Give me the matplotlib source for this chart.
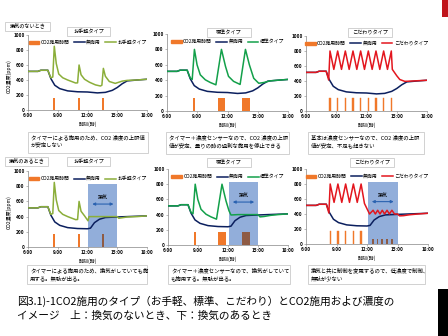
import matplotlib
matplotlib.use('Agg')
import matplotlib.pyplot as plt
from matplotlib.patches import Rectangle, Patch
from matplotlib.lines import Line2D

plt.rcParams['font.family'] = ['Noto Sans CJK JP', 'DejaVu Sans']

# ---------------- data ----------------
x_ticks = [6, 9, 12, 15, 18]
x_ticklabels = ['6:00', '9:00', '12:00', '15:00', '18:00']
y_ticks = [0, 200, 400, 600, 800, 1000]

# no CO2 (無施用), without ventilation
navy_h = [6.0, 7.0, 7.3, 8.0, 8.3, 8.7, 9.2, 10.0, 11.0, 12.0, 13.0, 13.8, 14.5, 15.0, 15.5, 16.0, 17.0, 18.0]
navy_v = [515, 515, 530, 530, 420, 330, 285, 255, 243, 240, 228, 235, 262, 300, 350, 388, 400, 410]
# no CO2, with ventilation
navyV_h = [6.0, 7.0, 7.3, 8.0, 8.3, 8.7, 9.2, 10.0, 11.0, 12.0, 12.3, 12.7, 13.2, 13.8, 15.0, 16.0, 17.0, 18.0]
navyV_v = [515, 515, 530, 530, 420, 330, 285, 255, 243, 240, 248, 320, 365, 388, 395, 400, 405, 410]

# お手軽タイプ
easy_h = [6.0, 7.0, 7.3, 8.0, 8.3, 8.5, 8.65, 8.85, 9.1, 9.5, 10.0, 10.8, 11.0, 11.15, 11.35, 11.7, 12.2, 12.8,
          13.3, 13.45, 13.6, 13.8, 14.2, 14.8, 15.5, 16.0, 17.0, 18.0]
easy_v = [515, 515, 530, 530, 430, 440, 850, 620, 480, 430, 400, 360, 362, 600, 470, 410, 370, 335,
          320, 330, 555, 450, 380, 355, 385, 395, 400, 410]
easyV_h = [6.0, 7.0, 7.3, 8.0, 8.3, 8.5, 8.65, 8.85, 9.1, 9.5, 10.0, 10.8, 11.0, 11.15, 11.35, 11.7, 12.05,
           12.15, 13.0, 14.0, 15.0, 15.15, 15.5, 16.0, 17.0, 18.0]
easyV_v = [515, 515, 530, 530, 430, 440, 850, 620, 480, 430, 400, 360, 362, 600, 470, 410, 345,
           400, 400, 400, 400, 378, 385, 395, 400, 410]

# 標準タイプ
std_h = [6.0, 7.0, 7.3, 8.0, 8.3, 8.5, 8.72, 8.98, 9.3, 9.8, 10.3, 10.85, 11.4, 11.8, 12.1, 12.6, 13.25,
         13.78, 14.17, 14.6, 15.1, 15.6, 16.25, 17.0, 18.0]
std_v = [515, 515, 530, 530, 430, 410, 800, 600, 470, 405, 370, 340, 800, 580, 450, 385, 345,
         800, 600, 425, 360, 370, 392, 400, 410]
stdV_h = [6.0, 7.0, 7.3, 8.0, 8.3, 8.5, 8.72, 8.98, 9.3, 9.8, 10.3, 10.85, 11.4, 11.8, 12.1, 12.3,
          13.0, 14.0, 15.0, 15.2, 15.6, 16.25, 17.0, 18.0]
stdV_v = [515, 515, 530, 530, 430, 410, 800, 600, 470, 405, 370, 340, 800, 580, 450, 395,
          400, 400, 400, 370, 375, 390, 400, 410]

# こだわりタイプ
prem_h = [6.0, 7.0, 7.3, 8.0, 8.25, 8.38, 8.76, 9.14, 9.52, 9.9, 10.28, 10.66, 11.04, 11.42, 11.8,
          12.18, 12.56, 12.94, 13.32, 13.7, 14.08, 14.46, 14.56, 15.0, 15.3, 15.8, 16.3, 17.0, 18.0]
prem_v = [515, 515, 530, 530, 413, 800, 555, 800, 555, 800, 555, 800, 555, 800, 555,
          800, 555, 800, 555, 800, 555, 800, 555, 470, 420, 395, 398, 403, 410]
premV_h = [6.0, 7.0, 7.3, 8.0, 8.25, 8.38, 8.76, 9.14, 9.52, 9.9, 10.28, 10.66, 11.04, 11.42, 11.75,
           12.25, 12.6, 12.82, 13.05, 13.28, 13.5, 13.73, 13.97, 14.2, 14.45, 14.7, 15.0, 15.2, 15.6,
           16.2, 17.0, 18.0]
premV_v = [515, 515, 530, 530, 413, 800, 555, 800, 555, 800, 555, 800, 555, 800, 540,
           400, 450, 400, 450, 400, 450, 400, 450, 400, 450, 400, 400, 375, 378,
           390, 400, 410]

# CO2 application bars (time, width, height)
easy_bar_t = [8.63, 11.1]
easy_bar_w = [0.2, 0.2]
easy_bar_hgt = [165, 165]
easy_bar3_t = [13.6]
easy_bar3_w = [0.22]
easy_bar3_hgt = [165]

std_bar_t = [8.67, 11.4]
std_bar_w = [0.22, 0.76]
std_bar_hgt = [165, 165]
std_bar3_t = [13.82]
std_bar3_w = [0.76]
std_bar3_hgt = [165]

prem_bar_t = [8.38, 9.14, 9.9, 10.66, 11.42]
prem_bar2_t = [12.18, 12.94, 13.7, 14.46]
prem_bar_w = 0.12
prem_bar_hgt = 170
premV_bar_t = [12.59, 13.03, 13.5, 13.97, 14.45]
premV_bar_w = 0.15
premV_bar_hgt = 68

vent_start, vent_end, vent_top = 12.1, 15.0, 830

legend_bar = 'CO2施用時間'
legend_none = '無施用'
type_names = ['お手軽タイプ', '標準タイプ', 'こだわりタイプ']

desc_top = ['タイマーによる施用のため、CO2 濃度の上限値\nが安定しない',
            'タイマー＋濃度センサーなので、CO2 濃度の上限\n値が安定、曇りの時の過剰な施用を停止できる',
            '基本は濃度センサーなので、CO2 濃度の上限\n値が安定、不足も起きない']
desc_bot = ['タイマーによる施用のため、換気がしていても施\n用する。無駄が出る。',
            'タイマー＋濃度センサーなので、換気がしていて\nも施用する。無駄が出る。',
            '換気と共に制御を変更するので、低濃度で制御、\n無駄が少ない']
caption = ['図3.1)-1CO2施用のタイプ（お手軽、標準、こだわり）とCO2施用および濃度の',
           'イメージ　上：換気のないとき、下：換気のあるとき']

# ---------------- style ----------------
C_BAR = '#F0782A'
C_BAR_V = '#8E5B44'
C_NAVY = '#0B1F5E'
C_EASY = '#8BAE3A'
C_STD = '#13A04A'
C_PREM = '#E3161E'
C_VENT = '#92AEDA'

W, H = 448, 336
fig = plt.figure(figsize=(4.48, 3.36), dpi=100)


def fx(x):
    return x / W


def fy(y):
    return 1 - y / H


def make_axes(x0, x1, ytop, ybot):
    return fig.add_axes([fx(x0), fy(ybot), (x1 - x0) / W, (ybot - ytop) / H])


def style(ax, color, name):
    ax.set_xlim(6, 18)
    ax.set_ylim(0, 1000)
    ax.set_xticks(x_ticks)
    ax.set_xticklabels(x_ticklabels)
    ax.set_yticks(y_ticks)
    for s in ['top', 'right']:
        ax.spines[s].set_visible(False)
    for s in ['left', 'bottom']:
        ax.spines[s].set_color('#868686')
        ax.spines[s].set_linewidth(0.5)
    ax.tick_params(labelsize=3.4, length=1.5, width=0.4, pad=1, colors='#868686', labelcolor='black')
    for lab in ax.get_xticklabels() + ax.get_yticklabels():
        lab.set_fontweight('bold')
    ax.set_xlabel('時刻(時)', fontsize=3.6, labelpad=2.5)
    handles = [Patch(color=C_BAR), Line2D([], [], color=C_NAVY, lw=1.1), Line2D([], [], color=color, lw=1.1)]
    ax.legend(handles, [legend_bar, legend_none, name], ncol=3, loc='center', bbox_to_anchor=(0.5, 0.9),
              frameon=False, fontsize=3.5, handlelength=2.2, handleheight=0.5, columnspacing=0.9,
              handletextpad=0.3, borderpad=0)
    ax.patch.set_alpha(0)


def title_box(x0, x1, y0, y1, text):
    fig.add_artist(Rectangle((fx(x0), fy(y1)), (x1 - x0) / W, (y1 - y0) / H, transform=fig.transFigure,
                             fc='white', ec='#BFBFBF', lw=0.5))
    fig.text(fx((x0 + x1) / 2), fy((y0 + y1) / 2), text, ha='center', va='center', fontsize=3.7)


def desc_box(x0, x1, y0, y1, text):
    fig.add_artist(Rectangle((fx(x0), fy(y1)), (x1 - x0) / W, (y1 - y0) / H, transform=fig.transFigure,
                             fc='white', ec='#BFBFBF', lw=0.5))
    fig.text(fx(x0 + 3), fy(y0 + 2.5), text, ha='left', va='top', fontsize=3.9, linespacing=1.45)


panels = [
    # (x0, x1, ytop, ybot)
    (28, 147, 35, 110), (167, 288, 34, 111), (306, 427, 36, 111),
    (28, 147, 171, 247), (168, 288, 169, 245), (306, 428, 169, 244),
]

axs = [make_axes(*p) for p in panels]

# --- top row ---
ax = axs[0]
ax.bar(easy_bar_t + easy_bar3_t, easy_bar_hgt + easy_bar3_hgt, width=easy_bar_w + easy_bar3_w, color=C_BAR, zorder=1)
ax.plot(navy_h, navy_v, color=C_NAVY, lw=1.1, zorder=3)
ax.plot(easy_h, easy_v, color=C_EASY, lw=1.1, zorder=4)
style(ax, C_EASY, type_names[0])

ax = axs[1]
ax.bar(std_bar_t + std_bar3_t, std_bar_hgt + std_bar3_hgt, width=std_bar_w + std_bar3_w, color=C_BAR, zorder=1)
ax.plot(navy_h, navy_v, color=C_NAVY, lw=1.1, zorder=3)
ax.plot(std_h, std_v, color=C_STD, lw=1.1, zorder=4)
style(ax, C_STD, type_names[1])

ax = axs[2]
ax.bar(prem_bar_t + prem_bar2_t, prem_bar_hgt, width=prem_bar_w, color=C_BAR, zorder=1, lw=0.3, ec=C_BAR)
ax.plot(navy_h, navy_v, color=C_NAVY, lw=1.1, zorder=3)
ax.plot(prem_h, prem_v, color=C_PREM, lw=1.1, zorder=4)
style(ax, C_PREM, type_names[2])


def vent(ax):
    ax.add_patch(Rectangle((vent_start, 0), vent_end - vent_start, vent_top, color=C_VENT, lw=0, zorder=0.5))
    ax.annotate('', xy=(vent_start + 0.1, 565), xytext=(vent_end - 0.1, 565),
                arrowprops=dict(arrowstyle='<|-|>', color='#2A62B0', lw=0.8, mutation_scale=4), zorder=5)
    ax.text((vent_start + vent_end) / 2, 650, '換気', ha='center', va='center', fontsize=3.6, zorder=5)


# --- bottom row ---
ax = axs[3]
vent(ax)
ax.bar(easy_bar_t, easy_bar_hgt, width=easy_bar_w, color=C_BAR, zorder=1)
ax.bar(easy_bar3_t, easy_bar3_hgt, width=easy_bar3_w, color=C_BAR_V, zorder=1)
ax.plot(navyV_h, navyV_v, color=C_NAVY, lw=1.1, zorder=3)
ax.plot(easyV_h, easyV_v, color=C_EASY, lw=1.1, zorder=4)
style(ax, C_EASY, type_names[0])

ax = axs[4]
vent(ax)
ax.bar(std_bar_t, std_bar_hgt, width=std_bar_w, color=C_BAR, zorder=1)
ax.bar(std_bar3_t, std_bar3_hgt, width=std_bar3_w, color=C_BAR_V, zorder=1)
ax.plot(navyV_h, navyV_v, color=C_NAVY, lw=1.1, zorder=3)
ax.plot(stdV_h, stdV_v, color=C_STD, lw=1.1, zorder=4)
style(ax, C_STD, type_names[1])

ax = axs[5]
vent(ax)
ax.bar(prem_bar_t, prem_bar_hgt, width=prem_bar_w, color=C_BAR, zorder=1, lw=0.3, ec=C_BAR)
ax.bar(premV_bar_t, premV_bar_hgt, width=premV_bar_w, color=C_BAR_V, zorder=1)
ax.plot(navyV_h, navyV_v, color=C_NAVY, lw=1.1, zorder=3)
ax.plot(premV_h, premV_v, color=C_PREM, lw=1.1, zorder=4)
style(ax, C_PREM, type_names[2])

# y labels
fig.text(fx(9), fy(76), 'CO2濃度(ppm)', rotation=90, ha='center', va='center', fontsize=3.6)
fig.text(fx(9), fy(212), 'CO2濃度(ppm)', rotation=90, ha='center', va='center', fontsize=3.6)

# title boxes
title_box(5, 50, 22, 31, '換気のないとき')
title_box(67, 110, 27, 36, type_names[0])
title_box(207, 251, 28, 37, type_names[1])
title_box(348, 392, 28, 37, type_names[2])
title_box(5, 48, 157, 166, '換気のあるとき')
title_box(67, 110, 157, 166, type_names[0])
title_box(207, 251, 158, 167, type_names[1])
title_box(350, 394, 158, 167, type_names[2])

# description boxes
desc_box(28, 148, 132, 153, desc_top[0])
desc_box(166, 289, 132, 154, desc_top[1])
desc_box(308, 424, 132, 154, desc_top[2])
desc_box(27, 147, 265, 284, desc_bot[0])
desc_box(168, 290, 265, 284, desc_bot[1])
desc_box(308, 425, 265, 284, desc_bot[2])

# caption
fig.text(fx(17), fy(301), caption[0], ha='left', va='center', fontsize=7.7)
fig.text(fx(17), fy(316), caption[1], ha='left', va='center', fontsize=7.7)

# decorative blocks
fig.add_artist(Rectangle((fx(442), fy(17)), 6 / W, 17 / H, transform=fig.transFigure, fc='#C0141B', ec='none'))
fig.add_artist(Rectangle((fx(438), fy(336)), 10 / W, 47 / H, transform=fig.transFigure, fc='black', ec='none'))

fig.savefig('out.png', dpi=100)
